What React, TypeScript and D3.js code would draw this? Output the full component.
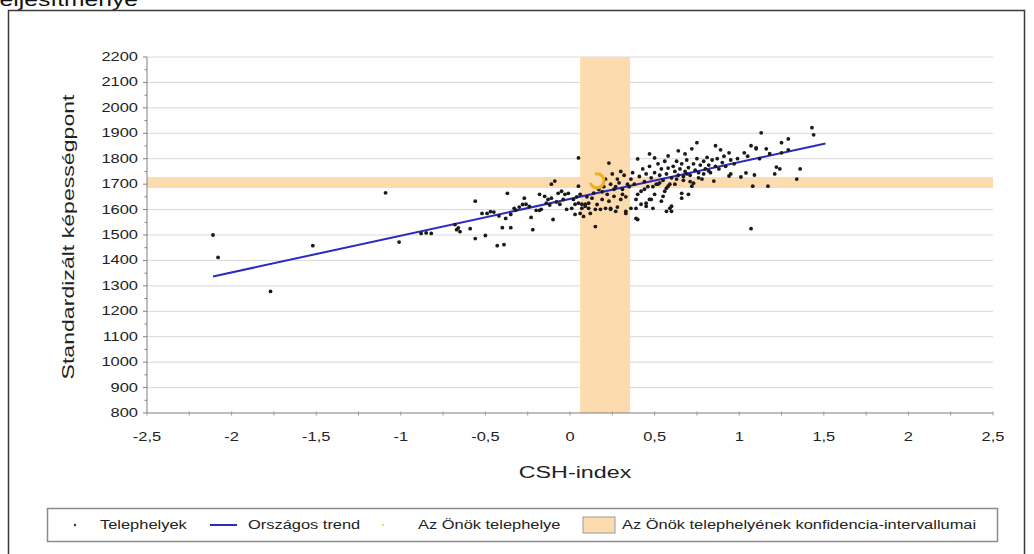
import React from "react";
import * as d3 from "d3";

// ---- Data ----
const xTicks = [-2.5, -2, -1.5, -1, -0.5, 0, 0.5, 1, 1.5, 2, 2.5];
const yTicks = [800, 900, 1000, 1100, 1200, 1300, 1400, 1500, 1600, 1700, 1800, 1900, 2000, 2100, 2200];

// Telephelyek: [CSH-index, Standardizált képességpont]
const sites: [number, number][] = [
  [-2.11, 1500], [-2.08, 1412], [-1.77, 1278], [-1.52, 1458], [-1.09, 1666], [-1.01, 1472],
  [-0.88, 1506], [-0.85, 1508], [-0.82, 1506], [-0.68, 1541], [-0.67, 1521], [-0.66, 1528],
  [-0.65, 1513], [-0.59, 1525], [-0.56, 1633], [-0.56, 1486], [-0.52, 1585], [-0.5, 1498],
  [-0.49, 1585], [-0.47, 1592], [-0.43, 1458], [-0.39, 1462], [-0.4, 1529], [-0.35, 1529],
  [-0.38, 1565], [-0.37, 1664], [-0.35, 1581], [-0.32, 1598], [-0.3, 1610], [-0.27, 1645],
  [-0.26, 1621], [-0.24, 1612], [-0.23, 1569], [-0.22, 1521], [-0.2, 1597], [-0.18, 1597],
  [-0.17, 1601], [-0.18, 1660], [-0.15, 1652], [-0.13, 1640], [-0.11, 1645], [-0.1, 1561],
  [-0.11, 1700], [-0.09, 1712], [-0.07, 1664], [-0.05, 1672], [-0.03, 1660], [-0.01, 1664],
  [-0.06, 1621], [-0.04, 1640], [-0.02, 1601], [-0.08, 1630], [-0.14, 1625], [-0.12, 1618],
  [-0.28, 1620], [-0.33, 1605], [-0.45, 1590], [-0.42, 1575],
  [0.01, 1605], [0.03, 1621], [0.05, 1625], [0.07, 1621], [0.09, 1613], [0.11, 1625],
  [0.03, 1581], [0.06, 1585], [0.08, 1573], [0.05, 1692], [0.05, 1803], [0.15, 1533],
  [0.23, 1783], [0.12, 1585], [0.15, 1601], [0.11, 1605], [0.09, 1621], [0.07, 1605],
  [0.18, 1601], [0.21, 1605], [0.24, 1605], [0.23, 1633], [0.26, 1652], [0.27, 1593],
  [0.24, 1601], [0.33, 1585], [0.33, 1593], [0.36, 1605], [0.02, 1640], [0.04, 1650],
  [0.06, 1660], [0.1, 1650], [0.13, 1645], [0.14, 1665], [0.17, 1680], [0.19, 1670],
  [0.2, 1690], [0.21, 1720], [0.24, 1700], [0.25, 1740], [0.27, 1690], [0.28, 1720],
  [0.29, 1705], [0.3, 1750], [0.31, 1680], [0.32, 1735], [0.34, 1700], [0.16, 1620],
  [0.19, 1640], [0.22, 1660], [0.26, 1680], [0.28, 1610], [0.3, 1640], [0.31, 1660],
  [0.33, 1650], [0.35, 1690],
  [0.36, 1720], [0.37, 1745], [0.38, 1700], [0.39, 1640], [0.39, 1565], [0.39, 1605],
  [0.4, 1561], [0.4, 1660], [0.4, 1799], [0.41, 1730], [0.42, 1672], [0.42, 1621],
  [0.43, 1760], [0.44, 1710], [0.45, 1625], [0.45, 1613], [0.45, 1740], [0.46, 1690],
  [0.47, 1640], [0.47, 1819], [0.47, 1770], [0.48, 1640], [0.48, 1725], [0.49, 1605],
  [0.5, 1660], [0.5, 1803], [0.5, 1745], [0.51, 1700], [0.52, 1780], [0.52, 1700],
  [0.53, 1735], [0.54, 1633], [0.54, 1760], [0.55, 1652], [0.55, 1715], [0.56, 1672],
  [0.56, 1790], [0.57, 1684], [0.57, 1593], [0.57, 1740], [0.58, 1692], [0.58, 1811],
  [0.58, 1763], [0.59, 1605], [0.6, 1593], [0.6, 1613], [0.6, 1725], [0.61, 1770],
  [0.62, 1700], [0.62, 1750], [0.63, 1790], [0.64, 1831], [0.64, 1735], [0.65, 1760],
  [0.66, 1664], [0.66, 1645], [0.66, 1780], [0.67, 1715], [0.68, 1819], [0.68, 1750],
  [0.69, 1795], [0.7, 1660], [0.7, 1765], [0.71, 1735], [0.72, 1692], [0.72, 1839],
  [0.73, 1704], [0.73, 1780], [0.74, 1755], [0.75, 1863], [0.75, 1800], [0.76, 1745],
  [0.77, 1775], [0.78, 1720], [0.79, 1790], [0.8, 1760], [0.81, 1805], [0.82, 1775],
  [0.83, 1745], [0.84, 1795], [0.85, 1712], [0.86, 1851], [0.86, 1770], [0.87, 1800],
  [0.88, 1760], [0.89, 1835], [0.9, 1785], [0.91, 1810], [0.92, 1770], [0.94, 1823],
  [0.94, 1732], [0.95, 1740], [0.95, 1795], [0.97, 1780],
  [0.44, 1680], [0.49, 1690], [0.53, 1705], [0.59, 1700], [0.63, 1720], [0.67, 1730],
  [0.69, 1740], [0.71, 1710], [0.76, 1725], [0.79, 1740], [0.82, 1752],
  [1.01, 1728], [1.03, 1823], [1.04, 1744], [1.07, 1851], [1.07, 1525], [1.08, 1692],
  [1.09, 1736], [1.1, 1843], [1.1, 1839], [1.13, 1902], [1.16, 1839], [1.17, 1692],
  [1.21, 1740], [1.22, 1767], [1.24, 1760], [1.25, 1863], [1.25, 1823], [1.29, 1878],
  [1.29, 1835], [1.34, 1720], [1.36, 1760], [1.43, 1922], [1.44, 1894], [0.99, 1800],
  [1.05, 1810], [1.12, 1800], [1.18, 1820],
];

// Országos trend endpoints
const trendX = [-2.11, 1.51];
const trendY = [1337, 1860];

// Az Önök telephelye
const ownSite: [number, number] = [0.16, 1713];
// Konfidencia-intervallumok
const ciX = [0.06, 0.355];
const ciY = [1685, 1728];

const legendItems = ["Telephelyek", "Országos trend", "Az Önök telephelye", "Az Önök telephelyének konfidencia-intervallumai"];

const FONT = "Arial, 'Liberation Sans', sans-serif";
const SX = 1.37;

function SText(props: { x: number; y: number; size: number; anchor?: string; children: any; fill?: string }) {
  const { x, y, size, anchor = "start", children, fill = "#222" } = props;
  return (
    <g transform={`translate(${x},${y}) scale(${SX},1)`}>
      <text x={0} y={0} fontSize={size} fontFamily={FONT} textAnchor={anchor} fill={fill}>
        {children}
      </text>
    </g>
  );
}

export default function App() {
  const W = 1034, H = 554;
  const x = d3.scaleLinear().domain([-2.5, 2.5]).range([147, 993]);
  const y = d3.scaleLinear().domain([800, 2200]).range([413, 57]);
  const line = d3.line<[number, number]>().x((d) => x(d[0])).y((d) => y(d[1]));
  const trendPts: [number, number][] = trendX.map((v, i) => [v, trendY[i]]);
  const minorX = d3.range(-2.5, 2.5001, 0.25);
  const minorY = d3.range(800, 2200.1, 50);
  const arc = d3.arc()({ innerRadius: 7, outerRadius: 7, startAngle: -Math.PI * 0.1, endAngle: Math.PI * 1.4 } as any);

  return (
    <svg width={W} height={H} style={{ position: "absolute", left: 0, top: 0, background: "#fff" }}>
      <rect x={0} y={0} width={W} height={H} fill="#fff" />
      <SText x={138} y={6} size={18} anchor="end" fill="#111">Teljesítménye</SText>
      <rect x={8.5} y={10.5} width={1016} height={600} fill="#fff" stroke="#3a3a3a" strokeWidth={1.5} />

      {/* gridlines */}
      {yTicks.filter((t) => t > 800).map((t) => (
        <line key={t} x1={x(-2.5)} x2={x(2.5)} y1={y(t)} y2={y(t)} stroke="#d9d9d9" strokeWidth={1} />
      ))}

      {/* confidence bands */}
      <rect x={x(-2.5)} width={x(2.5) - x(-2.5)} y={y(ciY[1])} height={y(ciY[0]) - y(ciY[1])} fill="#fcdcae" />
      <rect x={x(ciX[0])} width={x(ciX[1]) - x(ciX[0])} y={y(2200)} height={y(800) - y(2200)} fill="#fcdcae" />

      {/* axes */}
      <line x1={x(-2.5)} x2={x(-2.5)} y1={y(2200)} y2={y(800)} stroke="#808080" strokeWidth={1} />
      <line x1={x(-2.5)} x2={x(2.5)} y1={y(800)} y2={y(800)} stroke="#808080" strokeWidth={1.2} />
      {minorY.map((t) => (
        <line key={"my" + t} x1={x(-2.5) - (t % 100 === 0 ? 4 : 2.5)} x2={x(-2.5)} y1={y(t)} y2={y(t)} stroke="#808080" />
      ))}
      {minorX.map((t) => (
        <line key={"mx" + t} x1={x(t)} x2={x(t)} y1={y(800) - 1.5} y2={y(800) + 2.5} stroke="#999" />
      ))}
      {yTicks.map((t) => (
        <SText key={"yl" + t} x={138} y={y(t) + 4} size={12} anchor="end">{String(t)}</SText>
      ))}
      {xTicks.map((t) => (
        <SText key={"xl" + t} x={x(t)} y={441} size={12} anchor="middle">{String(t).replace(".", ",")}</SText>
      ))}

      {/* trend */}
      <path d={line(trendPts) || ""} stroke="#2b2bbd" strokeWidth={2} fill="none" />

      {/* sites */}
      {sites.map((d, i) => (
        <circle key={i} cx={x(d[0])} cy={y(d[1])} r={1.9} fill="#1a1a1a" />
      ))}

      {/* own site */}
      <path d={arc || ""} transform={`translate(${x(ownSite[0])},${y(ownSite[1])})`} fill="none" stroke="#f0ad1e" strokeWidth={3} />

      {/* axis titles */}
      <SText x={575} y={478} size={17} anchor="middle">CSH-index</SText>
      <g transform="translate(74,237) rotate(-90)">
        <text x={0} y={0} fontSize={17} fontFamily={FONT} textAnchor="middle" fill="#222" textLength={285} lengthAdjust="spacingAndGlyphs">
          Standardizált képességpont
        </text>
      </g>

      {/* legend */}
      <rect x={47.5} y={508.5} width={950} height={33} fill="#fff" stroke="#8c8c8c" strokeWidth={1.5} />
      <circle cx={75} cy={525} r={1.2} fill="#333" />
      <SText x={100} y={529} size={12}>{legendItems[0]}</SText>
      <line x1={210} x2={237} y1={525} y2={525} stroke="#2b2bbd" strokeWidth={2} />
      <SText x={248} y={529} size={12}>{legendItems[1]}</SText>
      <circle cx={383} cy={525} r={1.2} fill="#f3d27a" />
      <SText x={418} y={529} size={12}>{legendItems[2]}</SText>
      <rect x={583} y={517} width={32} height={16} fill="#fcdcae" stroke="#999" strokeWidth={1} />
      <SText x={622} y={529} size={12}>{legendItems[3]}</SText>
    </svg>
  );
}
